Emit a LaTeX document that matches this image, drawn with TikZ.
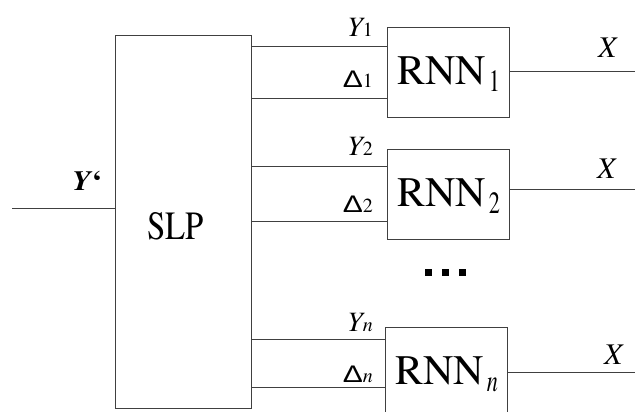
\documentclass[tikz,border=0pt]{standalone}
\usepackage{fontspec}
\setmainfont{texgyretermes}[Extension=.otf,UprightFont=*-regular,
  ItalicFont=*-italic,BoldFont=*-bold,BoldItalicFont=*-bolditalic]
\newfontfamily\deltafont{Liberation Sans}
\usepackage{graphicx}
\begin{document}
\begin{tikzpicture}[x=1pt,y=-1pt,
  wire/.style={draw=black!75,line width=1pt},
  block/.style={draw=black!75,line width=1pt,inner sep=0pt,anchor=north west},
  rnnbox/.style={block,minimum width=122pt,minimum height=90pt,
     text height=57pt,text depth=33pt,font=\fontsize{42}{42}\selectfont},
  ylab/.style={anchor=base east,inner sep=0pt,font=\fontsize{28}{28}\selectfont},
  dlab/.style={anchor=base east,inner sep=0pt},
  xlab/.style={anchor=base west,inner sep=0pt,font=\fontsize{30}{30}\selectfont\itshape},
  dotsq/.style={fill=black,inner sep=0pt,minimum size=6.5pt,anchor=north west}]
\clip (0,0) rectangle (635,412);
\fill[white] (0,0) rectangle (635,412);

% subscript helpers
\newcommand{\rsub}[1]{\kern3pt\raisebox{-7pt}{\scalebox{0.72}[1]{\fontsize{31}{31}\selectfont #1}}}
\newcommand{\ysub}[1]{{\fontsize{20}{20}\selectfont #1}}
\newcommand{\dsym}{\scalebox{1.25}[1]{\fontsize{24}{24}\deltafont\char"0394}}

% main blocks
\node[block,minimum width=136pt,minimum height=373pt] (slp) at (115,35) {};
\node[anchor=base,inner sep=0pt] (slplab) at (175.5,239)
  {\scalebox{0.82}[1]{\fontsize{40}{40}\selectfont SLP}};

\node[rnnbox] (rnn1) at (387,27) {RNN\rsub{1}};
\node[rnnbox] (rnn2) at (387,149) {RNN\rsub{2}};
\node[rnnbox] (rnn3) at (385,327) {RNN\rsub{\itshape n}};

% input
\coordinate (yin) at (12,208);
\draw[wire] (yin) -- (slp.west |- yin);
\node[anchor=base west,inner sep=0pt] (ylabin) at (72,190)
  {\scalebox{1.1}[1]{\fontsize{28}{28}\selectfont\bfseries\itshape Y\kern1pt\upshape‘}};

% links SLP -> RNN
\draw[wire] (slp.east |- 0,47) -- (rnn1.west |- 0,47);
\draw[wire] (slp.east |- 0,99) -- (rnn1.west |- 0,99);
\draw[wire] (slp.east |- 0,166) -- (rnn2.west |- 0,166);
\draw[wire] (slp.east |- 0,221) -- (rnn2.west |- 0,221);
\draw[wire] (slp.east |- 0,339) -- (rnn3.west |- 0,339);
\draw[wire] (slp.east |- 0,387) -- (rnn3.west |- 0,387);

\node[ylab] (y1) at (373,37) {\itshape Y\upshape\ysub{1}};
\node[ylab] (y2) at (373,155) {\itshape Y\upshape\ysub{2}};
\node[ylab] (y3) at (373,331) {\itshape Y\ysub{n}};
\node[dlab] (d1) at (373,88) {\dsym\ysub{1}};
\node[dlab] (d2) at (373,212) {\dsym\ysub{2}};
\node[dlab] (d3) at (373,382) {\dsym\ysub{\itshape n}};

% outputs
\coordinate (o1) at (635,72);
\coordinate (o2) at (635,189);
\coordinate (o3) at (635,372);
\draw[wire] (rnn1.east |- o1) -- (o1);
\draw[wire] (rnn2.east |- o2) -- (o2);
\draw[wire] (rnn3.east |- o3) -- (o3);
\node[xlab] (x1) at (598,58) {X};
\node[xlab] (x2) at (597,178) {X};
\node[xlab] (x3) at (604,364) {X};

% ellipsis between the blocks
\node[dotsq] (dt1) at (425,269) {};
\node[dotsq] (dt2) at (442,269) {};
\node[dotsq] (dt3) at (459,269) {};
\end{tikzpicture}
\end{document}
